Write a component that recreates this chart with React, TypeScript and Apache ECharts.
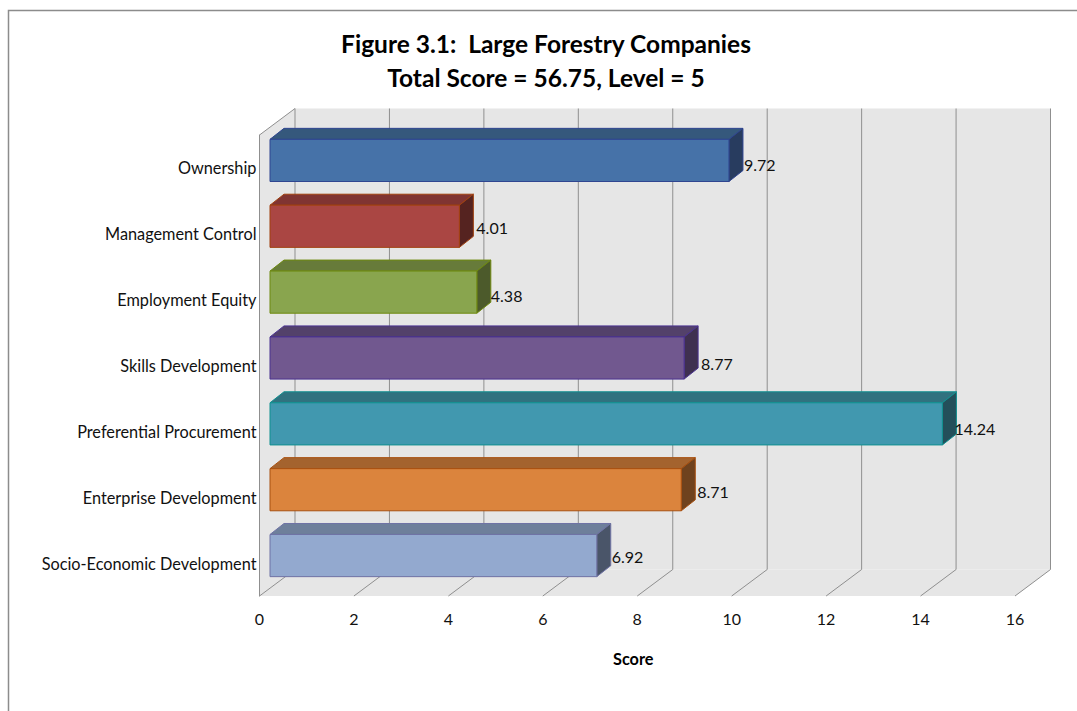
import React, { useEffect, useRef } from "react";
import * as echarts from "echarts";

// Chart content
const titleLines = ["Figure 3.1:  Large Forestry Companies", "Total Score = 56.75, Level = 5"];
const categories = [
  "Ownership",
  "Management Control",
  "Employment Equity",
  "Skills Development",
  "Preferential Procurement",
  "Enterprise Development",
  "Socio-Economic Development",
];
const scores = [9.72, 4.01, 4.38, 8.77, 14.24, 8.71, 6.92];
const axisTicks = [0, 2, 4, 6, 8, 10, 12, 14, 16];
const axisName = "Score";

// One shade set per bar: front face, top face, side face, outline
const barShades = [
  ["#4672a8", "#35587c", "#283c5f", "#2f4590"],
  ["#aa4643", "#803432", "#552320", "#a0400f"],
  ["#89a54e", "#677b3a", "#4c5a2b", "#6f8a10"],
  ["#71588f", "#53416a", "#3f3050", "#4a3290"],
  ["#4198af", "#30727f", "#234f5a", "#109090"],
  ["#db843d", "#a4632e", "#6f421e", "#a85010"],
  ["#93a9cf", "#6e7f9b", "#4a5569", "#6f73a5"],
];

// Hand-placed offsets of the value labels, in pixels
const labelNudgeX = [1, 3, 0, 3, -2, 2, 1];
const labelNudgeY = [4, 1, 3, 5, 5, 1.5, 1];

// Oblique projection of the box: depth of the walls and of the bars
const WALL_DX = 35.5;
const WALL_DY = -26.5;
const BAR_DX = 10.5;
const BAR_DY = -7.5;
const BAR_DEPTH_DX = 14;
const BAR_DEPTH_DY = -11;
const BAR_FILL = 0.64;

const WALL_COLOR = "#e6e6e6";
const GRID_COLOR = "#8f8f8f";
const FONT = "Lato, 'Open Sans', sans-serif";

const polygon = (points: number[][], fill: string, stroke?: string) => ({
  type: "polygon",
  shape: { points },
  style: { fill, stroke: stroke ?? "none", lineWidth: stroke ? 1 : 0 },
});
const polyline = (points: number[][]) => ({
  type: "polyline",
  shape: { points },
  style: { fill: "none", stroke: GRID_COLOR, lineWidth: 1 },
});

function renderWalls(params: any, api: any) {
  const cs = params.coordSys;
  const left = cs.x;
  const right = cs.x + cs.width;
  const top = cs.y;
  const bottom = cs.y + cs.height;
  const children: any[] = [
    // Left wall, back wall, floor
    polygon(
      [[left, top], [left + WALL_DX, top + WALL_DY], [left + WALL_DX, bottom + WALL_DY], [left, bottom]],
      WALL_COLOR,
    ),
    polygon(
      [[left + WALL_DX, top + WALL_DY], [right + WALL_DX, top + WALL_DY], [right + WALL_DX, bottom + WALL_DY], [left + WALL_DX, bottom + WALL_DY]],
      WALL_COLOR,
    ),
    polygon(
      [[left, bottom], [left + WALL_DX, bottom + WALL_DY], [right + WALL_DX, bottom + WALL_DY], [right, bottom]],
      WALL_COLOR,
    ),
    polyline([[left, top], [left + WALL_DX, top + WALL_DY]]),
  ];
  axisTicks.forEach((tick) => {
    const x = api.coord([tick, 0])[0];
    children.push(
      polyline([
        [x, bottom],
        [x + WALL_DX, bottom + WALL_DY],
        [x + WALL_DX, top + WALL_DY],
      ]),
    );
  });
  return { type: "group", children };
}

function renderBar(params: any, api: any) {
  const index = api.value(1);
  const value = api.value(0);
  const start = api.coord([0, index]);
  const end = api.coord([value, index]);
  const height = api.size([0, 1])[1] * BAR_FILL;
  const x0 = start[0] + BAR_DX;
  const x1 = end[0] + BAR_DX;
  const y0 = start[1] + BAR_DY - height / 2;
  const y1 = y0 + height;
  const [front, topFace, side, outline] = barShades[index];
  return {
    type: "group",
    children: [
      polygon(
        [[x0, y0], [x0 + BAR_DEPTH_DX, y0 + BAR_DEPTH_DY], [x1 + BAR_DEPTH_DX, y0 + BAR_DEPTH_DY], [x1, y0]],
        topFace,
        outline,
      ),
      polygon(
        [[x1, y0], [x1 + BAR_DEPTH_DX, y0 + BAR_DEPTH_DY], [x1 + BAR_DEPTH_DX, y1 + BAR_DEPTH_DY], [x1, y1]],
        side,
        outline,
      ),
      polygon([[x0, y0], [x1, y0], [x1, y1], [x0, y1]], front, outline),
      {
        type: "text",
        style: {
          x: x1 + BAR_DEPTH_DX + labelNudgeX[index],
          y: (y0 + y1) / 2 + labelNudgeY[index],
          text: value.toFixed(2),
          fill: "#111",
          font: `16px ${FONT}`,
          textAlign: "left",
          textVerticalAlign: "middle",
        },
      },
    ],
  };
}

export default function App() {
  const ref = useRef<HTMLDivElement>(null);

  useEffect(() => {
    const chart = echarts.init(ref.current!, null, { renderer: "svg" });
    chart.setOption({
      animation: false,
      backgroundColor: "#fff",
      title: {
        text: titleLines.join("\n"),
        left: 541,
        top: 21,
        textAlign: "center",
        textStyle: { fontFamily: FONT, fontSize: 24.5, fontWeight: "bold", color: "#000", lineHeight: 34 },
      },
      grid: { left: 259.5, right: 62, top: 135, bottom: 115 },
      xAxis: {
        type: "value",
        min: 0,
        max: 16,
        interval: 2,
        z: 3,
        name: axisName,
        nameLocation: "middle",
        nameGap: 54,
        nameTextStyle: { fontFamily: FONT, fontSize: 16.3, fontWeight: "bold", color: "#000", padding: [0, 8, 0, 0] },
        axisLine: { lineStyle: { color: "#b5b5b5", width: 2 } },
        axisTick: { length: 7, lineStyle: { color: "#a0a0a0", width: 1 } },
        axisLabel: { margin: 14, fontFamily: FONT, fontSize: 16, color: "#111" },
        splitLine: { show: false },
      },
      yAxis: {
        type: "category",
        inverse: true,
        data: categories,
        z: 3,
        axisLine: { lineStyle: { color: GRID_COLOR, width: 1 } },
        axisTick: { show: false },
        axisLabel: { margin: 3, fontFamily: FONT, fontSize: 16.3, color: "#111", padding: [0, 0, 1, 0] },
      },
      series: [
        {
          type: "custom",
          name: "walls",
          silent: true,
          z: 1,
          clip: false,
          renderItem: renderWalls,
          data: [[0, 0]],
          encode: { x: 0, y: 1 },
        },
        {
          type: "custom",
          name: axisName,
          z: 5,
          clip: false,
          renderItem: renderBar,
          data: scores.map((score, i) => [score, i]),
          encode: { x: 0, y: 1 },
        },
      ],
      graphic: [
        {
          type: "polyline",
          z: 10,
          shape: { points: [[8.5, 711], [8.5, 10.5], [1077, 10.5]] },
          style: { fill: "none", stroke: "#8c8c8c", lineWidth: 1.5 },
        },
      ],
    });
    return () => chart.dispose();
  }, []);

  return <div ref={ref} style={{ position: "fixed", left: 0, top: 0, width: 1077, height: 711 }} />;
}
